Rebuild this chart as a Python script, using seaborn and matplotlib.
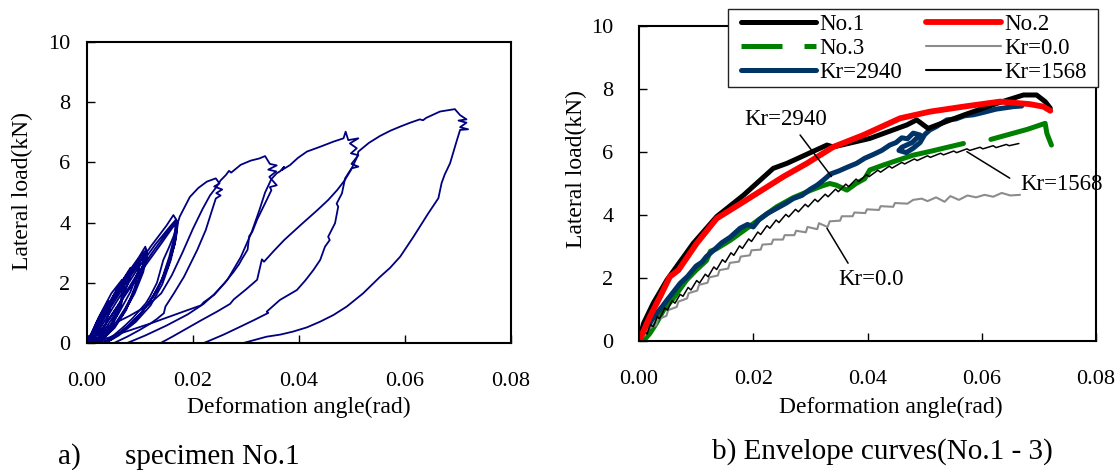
import pandas as pd
import seaborn as sns
import matplotlib.pyplot as plt
from matplotlib.lines import Line2D
from matplotlib.patches import Rectangle

sns.set_theme(style="white")
plt.rcParams['font.family'] = ['Liberation Serif', 'DejaVu Serif']
plt.rcParams['text.color'] = 'black'
plt.rcParams['axes.labelcolor'] = 'black'
plt.rcParams['xtick.color'] = 'black'
plt.rcParams['ytick.color'] = 'black'

# ---- common axes values
x_ticks = [0.00, 0.02, 0.04, 0.06, 0.08]
x_tick_labels = ["0.00", "0.02", "0.04", "0.06", "0.08"]
y_ticks = [0, 2, 4, 6, 8, 10]
y_tick_labels = ["0", "2", "4", "6", "8", "10"]

# ---- a) hysteresis of specimen No.1 (read off the picture)
small_x = [0.0000, 0.0020, 0.0040, 0.0043, 0.0036, 0.0020, 0.0008,
           0.0000, 0.0022, 0.0046, 0.0066, 0.0069, 0.0062, 0.0046, 0.0026, 0.0012,
           0.0005, 0.0030, 0.0055, 0.0075, 0.0082, 0.0080, 0.0070, 0.0052, 0.0032, 0.0018,
           0.0000, 0.0024, 0.0050, 0.0068, 0.0070, 0.0063, 0.0048, 0.0030, 0.0016,
           0.0002, 0.0028, 0.0058, 0.0085, 0.0095, 0.0098, 0.0090, 0.0074, 0.0052, 0.0030, 0.0018,
           0.0004, 0.0030, 0.0062, 0.0090, 0.0100, 0.0096, 0.0082, 0.0060, 0.0038, 0.0022,
           0.0012, 0.0040, 0.0070, 0.0095, 0.0108, 0.0105, 0.0095, 0.0080, 0.0060, 0.0040, 0.0025,
           0.0006, 0.0035, 0.0070, 0.0098, 0.0110, 0.0114, 0.0106, 0.0090, 0.0068, 0.0044, 0.0026,
           0.0008, 0.0040, 0.0075, 0.0102, 0.0112, 0.0108, 0.0094, 0.0072, 0.0048, 0.0030,
           0.0010, 0.0045, 0.0085, 0.0120, 0.0150, 0.0163, 0.0170, 0.0168, 0.0160, 0.0145, 0.0125, 0.0100, 0.0070, 0.0040,
           0.0015, 0.0055, 0.0095, 0.0130, 0.0158, 0.0168, 0.0165, 0.0155, 0.0140, 0.0118, 0.0090, 0.0055, 0.0030,
           0.0025, 0.0060, 0.0095, 0.0125, 0.0150, 0.0165, 0.0170, 0.0166, 0.0152, 0.0132, 0.0105, 0.0075, 0.0045,
           0.0020, 0.0065, 0.0105, 0.0140, 0.0162, 0.0172, 0.0168, 0.0158, 0.0142, 0.0120, 0.0092, 0.0060, 0.0035]
small_y = [0.00, 0.75, 1.40, 1.15, 0.65, 0.15, 0.00,
           0.00, 0.85, 1.65, 2.10, 1.85, 1.25, 0.65, 0.15, 0.00,
           0.10, 0.95, 1.75, 2.30, 2.50, 2.15, 1.60, 0.95, 0.40, 0.05,
           0.00, 0.80, 1.55, 1.95, 1.70, 1.15, 0.60, 0.20, 0.00,
           0.05, 0.90, 1.80, 2.45, 2.65, 2.40, 1.85, 1.10, 0.50, 0.15, 0.00,
           0.10, 0.95, 1.85, 2.55, 2.75, 2.35, 1.70, 1.00, 0.40, 0.05,
           0.30, 1.10, 1.95, 2.60, 2.95, 2.55, 1.95, 1.35, 0.75, 0.30, 0.05,
           0.15, 1.10, 2.15, 2.85, 3.20, 2.95, 2.35, 1.65, 0.95, 0.40, 0.05,
           0.10, 1.15, 2.20, 2.90, 3.10, 2.60, 1.90, 1.15, 0.50, 0.10,
           0.15, 1.20, 2.30, 3.20, 3.90, 4.25, 4.05, 3.60, 3.00, 2.25, 1.55, 0.95, 0.45, 0.05,
           0.20, 1.35, 2.45, 3.30, 3.90, 4.10, 3.55, 2.85, 2.05, 1.35, 0.75, 0.25, 0.00,
           0.35, 1.30, 2.30, 3.05, 3.65, 4.00, 3.85, 3.30, 2.50, 1.75, 1.05, 0.50, 0.10,
           0.25, 1.40, 2.45, 3.30, 3.85, 4.05, 3.50, 2.75, 1.95, 1.25, 0.70, 0.25, 0.00]

cyc2_x = [0.0030, 0.0052, 0.0070, 0.0086, 0.0100, 0.0111, 0.0119, 0.0132, 0.0144, 0.0154, 0.0163,
          0.0175, 0.0194, 0.0210, 0.0226, 0.0243,
          0.0250, 0.0240, 0.0255, 0.0244, 0.0252, 0.0243, 0.0237, 0.0224, 0.0208, 0.0183, 0.0164,
          0.0148, 0.0145, 0.0132, 0.0120, 0.0098, 0.0076, 0.0051]
cyc2_y = [0.00, 0.28, 0.55, 0.82, 1.10, 1.32, 1.55, 2.00, 2.76, 3.15, 3.53,
          4.20, 4.85, 5.15, 5.36, 5.47,
          5.30, 5.20, 5.10, 4.98, 4.90, 4.80, 4.47, 3.75, 3.09, 2.20, 1.65,
          1.21, 0.99, 0.80, 0.65, 0.42, 0.21, 0.00]

cyc3_x = [0.0000, 0.0040, 0.0080, 0.0115, 0.0140, 0.0160, 0.0180, 0.0200, 0.0218, 0.0232, 0.0245,
          0.0252, 0.0262, 0.0268, 0.0272, 0.0290, 0.0309, 0.0325, 0.0336, 0.0345, 0.0358, 0.0342,
          0.0357, 0.0344, 0.0358, 0.0345, 0.0348, 0.0339, 0.0321, 0.0312, 0.0306, 0.0303, 0.0291,
          0.0287, 0.0276, 0.0259, 0.0240, 0.0220, 0.0190, 0.0150, 0.0110, 0.0076]
cyc3_y = [0.20, 0.55, 0.90, 1.25, 1.65, 2.25, 3.00, 3.80, 4.45, 4.90, 5.20,
          5.40, 5.58, 5.72, 5.66, 5.92, 6.06, 6.13, 6.21, 5.95, 5.90, 5.76,
          5.70, 5.52, 5.24, 5.18, 5.08, 4.75, 4.10, 3.70, 3.55, 3.10, 2.75,
          2.62, 2.35, 1.98, 1.62, 1.30, 0.95, 0.58, 0.25, 0.00]

cyc4_x = [0.0013, 0.0060, 0.0120, 0.0183, 0.0215, 0.0220, 0.0240, 0.0265, 0.0290, 0.0310, 0.0325,
          0.0336, 0.0348, 0.0358, 0.0364, 0.0372, 0.0368, 0.0383, 0.0398, 0.0415, 0.0440, 0.0465,
          0.0484, 0.0488, 0.0493, 0.0512, 0.0496, 0.0509, 0.0498, 0.0512, 0.0499, 0.0512, 0.0499,
          0.0487, 0.0481, 0.0471, 0.0474, 0.0468, 0.0455, 0.0458, 0.0449, 0.0440, 0.0427, 0.0412,
          0.0396, 0.0364, 0.0339, 0.0342, 0.0315, 0.0289, 0.0258, 0.0226, 0.0220]
cyc4_y = [0.00, 0.30, 0.65, 1.05, 1.25, 1.35, 1.60, 2.10, 2.85, 3.65, 4.40,
          5.00, 5.45, 5.64, 5.70, 5.85, 5.75, 5.91, 6.15, 6.36, 6.52, 6.69,
          6.80, 7.02, 6.74, 6.80, 6.63, 6.47, 6.30, 6.24, 5.95, 5.86, 5.80,
          5.47, 4.97, 4.63, 4.53, 3.98, 3.53, 3.42, 3.20, 2.76, 2.42, 2.08,
          1.76, 1.43, 1.04, 1.00, 0.76, 0.54, 0.28, 0.04, 0.00]

cyc5_x = [0.0139, 0.0160, 0.0183, 0.0215, 0.0246, 0.0270, 0.0277, 0.0300, 0.0321, 0.0330, 0.0334,
          0.0352, 0.0372, 0.0405, 0.0435, 0.0455, 0.0472, 0.0486, 0.0498, 0.0510, 0.0512, 0.0532,
          0.0553, 0.0572, 0.0591, 0.0610, 0.0628, 0.0634, 0.0640, 0.0666, 0.0694, 0.0704,
          0.0716, 0.0701, 0.0716, 0.0704, 0.0719, 0.0704, 0.0698, 0.0685, 0.0675, 0.0669, 0.0663,
          0.0644, 0.0630, 0.0616, 0.0591, 0.0572, 0.0553, 0.0521, 0.0490, 0.0465, 0.0440, 0.0415,
          0.0389, 0.0365, 0.0339, 0.0295]
cyc5_y = [0.00, 0.20, 0.43, 0.75, 1.05, 1.30, 1.45, 1.78, 2.10, 2.78, 2.70,
          3.05, 3.42, 3.95, 4.42, 4.75, 5.08, 5.40, 5.75, 6.19, 6.36, 6.65,
          6.88, 7.05, 7.19, 7.32, 7.43, 7.40, 7.48, 7.69, 7.77, 7.57,
          7.43, 7.39, 7.32, 7.17, 7.10, 7.08, 6.74, 5.97, 5.60, 5.31, 4.81,
          4.31, 3.92, 3.53, 2.87, 2.50, 2.20, 1.65, 1.21, 0.93, 0.71, 0.52,
          0.38, 0.28, 0.21, 0.00]

# ---- b) envelope curves
no1_x = [0.0000, 0.0008, 0.0025, 0.0049, 0.0072, 0.0095, 0.0136, 0.0183, 0.0235, 0.0259, 0.0329,
         0.0340, 0.0404, 0.0469, 0.0486, 0.0506, 0.0568, 0.0626, 0.0673, 0.0696, 0.0711, 0.0720]
no1_y = [0.00, 0.56, 1.20, 1.94, 2.52, 3.10, 3.95, 4.63, 5.48, 5.64, 6.22,
         6.16, 6.43, 6.86, 7.02, 6.75, 7.17, 7.54, 7.81, 7.81, 7.60, 7.39]

no2_x = [0.0000, 0.0019, 0.0037, 0.0054, 0.0069, 0.0101, 0.0136, 0.0183, 0.0253, 0.0294, 0.0340,
         0.0393, 0.0457, 0.0509, 0.0568, 0.0632, 0.0684, 0.0708, 0.0720]
no2_y = [0.00, 0.77, 1.41, 2.04, 2.25, 3.10, 3.89, 4.42, 5.22, 5.64, 6.16,
         6.54, 7.07, 7.28, 7.44, 7.60, 7.52, 7.44, 7.31]

no3_x_a = [0.0000, 0.0010, 0.0019, 0.0030, 0.0043, 0.0060, 0.0083, 0.0100, 0.0118, 0.0125, 0.0135,
           0.0160, 0.0189, 0.0215, 0.0241, 0.0270, 0.0300, 0.0320, 0.0334, 0.0345, 0.0364, 0.0380,
           0.0395, 0.0404, 0.0430, 0.0455, 0.0480, 0.0510, 0.0540, 0.0568]
no3_y_a = [0.00, 0.05, 0.24, 0.55, 0.98, 1.35, 1.93, 2.25, 2.55, 2.85, 2.92,
           3.20, 3.58, 3.92, 4.26, 4.55, 4.78, 4.92, 5.00, 4.95, 4.79, 5.00,
           5.15, 5.43, 5.60, 5.75, 5.90, 6.02, 6.15, 6.27]
no3_x_b = [0.0616, 0.0644, 0.0680, 0.0711, 0.0714, 0.0722]
no3_y_b = [6.40, 6.54, 6.72, 6.91, 6.59, 6.22]

kr0_x = [0.0000, 0.0012, 0.0015, 0.0030, 0.0033, 0.0048, 0.0051, 0.0066, 0.0069, 0.0084, 0.0087,
         0.0102, 0.0105, 0.0120, 0.0123, 0.0138, 0.0141, 0.0156, 0.0159, 0.0175, 0.0178, 0.0194,
         0.0197, 0.0213, 0.0216, 0.0232, 0.0235, 0.0252, 0.0255, 0.0272, 0.0275, 0.0292, 0.0295,
         0.0312, 0.0315, 0.0330, 0.0334, 0.0352, 0.0355, 0.0374, 0.0377, 0.0396, 0.0399, 0.0420,
         0.0423, 0.0445, 0.0448, 0.0470, 0.0480, 0.0495, 0.0505, 0.0520, 0.0535, 0.0545, 0.0560,
         0.0575, 0.0590, 0.0605, 0.0620, 0.0635, 0.0650, 0.0667]
kr0_y = [0.00, 0.22, 0.38, 0.50, 0.68, 0.80, 0.98, 1.08, 1.25, 1.35, 1.52,
         1.60, 1.78, 1.85, 2.02, 2.08, 2.25, 2.30, 2.48, 2.52, 2.68, 2.72,
         2.88, 2.90, 3.06, 3.08, 3.22, 3.22, 3.36, 3.36, 3.50, 3.45, 3.62,
         3.55, 3.74, 3.62, 3.80, 3.82, 3.96, 3.96, 4.08, 4.06, 4.18, 4.16,
         4.28, 4.26, 4.38, 4.36, 4.48, 4.52, 4.44, 4.56, 4.42, 4.60, 4.48,
         4.62, 4.56, 4.64, 4.58, 4.70, 4.62, 4.64]

kr2940_x = [0.0000, 0.0008, 0.0015, 0.0022, 0.0031, 0.0040, 0.0050, 0.0060, 0.0072, 0.0085, 0.0100,
            0.0110, 0.0118, 0.0132, 0.0145, 0.0160, 0.0177, 0.0190, 0.0200, 0.0210, 0.0225, 0.0241,
            0.0258, 0.0270, 0.0285, 0.0300, 0.0312, 0.0323, 0.0335, 0.0350, 0.0365, 0.0381, 0.0395,
            0.0410, 0.0425, 0.0439, 0.0450, 0.0460, 0.0470, 0.0480, 0.0492, 0.0478, 0.0460, 0.0455,
            0.0468, 0.0480, 0.0492, 0.0500, 0.0509, 0.0520, 0.0539, 0.0555, 0.0570, 0.0585, 0.0597,
            0.0612, 0.0625, 0.0640, 0.0655, 0.0670]
kr2940_y = [0.00, 0.25, 0.42, 0.65, 0.88, 1.08, 1.32, 1.55, 1.83, 2.05, 2.38,
            2.50, 2.68, 2.90, 3.12, 3.30, 3.58, 3.70, 3.62, 3.85, 4.05, 4.21,
            4.38, 4.52, 4.62, 4.82, 4.95, 5.11, 5.30, 5.40, 5.52, 5.64, 5.80,
            5.92, 6.05, 6.22, 6.30, 6.45, 6.42, 6.60, 6.54, 6.30, 6.15, 6.05,
            5.98, 6.12, 6.30, 6.55, 6.70, 6.80, 7.02, 7.05, 7.15, 7.18, 7.23,
            7.30, 7.36, 7.40, 7.44, 7.46]

kr1568_x = [0.0000, 0.0010, 0.0014, 0.0020, 0.0025, 0.0032, 0.0036, 0.0045, 0.0050, 0.0058, 0.0063,
            0.0072, 0.0077, 0.0086, 0.0091, 0.0101, 0.0106, 0.0116, 0.0121, 0.0131, 0.0136, 0.0146,
            0.0151, 0.0161, 0.0166, 0.0176, 0.0181, 0.0192, 0.0197, 0.0208, 0.0213, 0.0224, 0.0229,
            0.0240, 0.0245, 0.0257, 0.0262, 0.0274, 0.0279, 0.0291, 0.0296, 0.0308, 0.0313, 0.0326,
            0.0331, 0.0344, 0.0349, 0.0362, 0.0367, 0.0380, 0.0385, 0.0398, 0.0403, 0.0418, 0.0423,
            0.0438, 0.0443, 0.0460, 0.0465, 0.0482, 0.0487, 0.0505, 0.0510, 0.0528, 0.0533, 0.0551,
            0.0556, 0.0574, 0.0579, 0.0597, 0.0602, 0.0620, 0.0625, 0.0643, 0.0648, 0.0665]
kr1568_y = [0.00, 0.30, 0.22, 0.52, 0.45, 0.78, 0.70, 1.05, 0.98, 1.28, 1.20,
            1.48, 1.42, 1.70, 1.62, 1.92, 1.84, 2.12, 2.04, 2.35, 2.27, 2.58,
            2.50, 2.80, 2.72, 3.02, 2.94, 3.24, 3.16, 3.46, 3.38, 3.66, 3.58,
            3.84, 3.76, 4.02, 3.94, 4.18, 4.10, 4.34, 4.26, 4.50, 4.42, 4.66,
            4.58, 4.82, 4.74, 4.98, 4.90, 5.14, 5.06, 5.28, 5.22, 5.42, 5.36,
            5.55, 5.49, 5.67, 5.62, 5.78, 5.73, 5.88, 5.83, 5.96, 5.91, 6.03,
            5.98, 6.10, 6.05, 6.15, 6.10, 6.20, 6.14, 6.24, 6.20, 6.27]

legend_labels = ["No.1", "No.2", "No.3", "Kr=0.0", "Kr=2940", "Kr=1568"]

NAVY = "#000080"
GREEN = "#008000"
BLUE = "#003366"
GRAY = "#8c8c8c"
RED = "#ff0000"


def seg_frame(parts):
    rows = []
    for name, xs, ys in parts:
        for x, y in zip(xs, ys):
            rows.append({"seg": name, "rad": x, "kN": y})
    return pd.DataFrame(rows)


def style_axes(ax, ypad):
    ax.set_xlim(0, 0.08)
    ax.set_ylim(0, 10)
    ax.set_xticks(x_ticks)
    ax.set_xticklabels(x_tick_labels)
    ax.set_yticks(y_ticks)
    ax.set_yticklabels(y_tick_labels)
    ax.tick_params(direction="in", length=6, width=1, colors="black", labelsize=16,
                   bottom=True, left=True, top=False, right=False)
    ax.tick_params(axis="x", pad=21)
    ax.tick_params(axis="y", pad=ypad)
    for sp in ax.spines.values():
        sp.set_visible(True)
        sp.set_color("black")
        sp.set_linewidth(1.5)


fig = plt.figure(figsize=(11.16, 4.70), dpi=100)
ax1 = fig.add_axes([87 / 1116, 1 - 343 / 470, 424 / 1116, 301 / 470])
ax2 = fig.add_axes([639 / 1116, 1 - 341 / 470, 457 / 1116, 315 / 470])

# a) hysteresis loops
hys = seg_frame([("small", small_x, small_y), ("c2", cyc2_x, cyc2_y), ("c3", cyc3_x, cyc3_y),
                 ("c4", cyc4_x, cyc4_y), ("c5", cyc5_x, cyc5_y)])
sns.lineplot(data=hys, x="rad", y="kN", units="seg", estimator=None, sort=False,
             color=NAVY, linewidth=1.3, ax=ax1, legend=False)
style_axes(ax1, 12)
ax1.set_xlabel("Deformation angle(rad)", fontsize=17, va="center")
ax1.set_ylabel("Lateral load(kN)", fontsize=17, va="center")
ax1.xaxis.set_label_coords(0.5, -0.2126)
ax1.yaxis.set_label_coords(-0.153, 0.505)

# b) envelope curves
no3 = seg_frame([("a", no3_x_a, no3_y_a), ("b", no3_x_b, no3_y_b)])
sns.lineplot(data=no3, x="rad", y="kN", units="seg", estimator=None, sort=False,
             color=GREEN, linewidth=3.6, ax=ax2, legend=False)
sns.lineplot(x=kr2940_x, y=kr2940_y, estimator=None, sort=False, color=BLUE,
             linewidth=3.6, ax=ax2)
sns.lineplot(x=kr0_x, y=kr0_y, estimator=None, sort=False, color=GRAY,
             linewidth=1.5, ax=ax2)
sns.lineplot(x=kr1568_x, y=kr1568_y, estimator=None, sort=False, color="black",
             linewidth=1.1, ax=ax2)
sns.lineplot(x=no1_x, y=no1_y, estimator=None, sort=False, color="black",
             linewidth=3.6, ax=ax2)
sns.lineplot(x=no2_x, y=no2_y, estimator=None, sort=False, color=RED,
             linewidth=4.2, ax=ax2)
for ln in ax2.get_lines():
    ln.set_solid_joinstyle("round")
    ln.set_solid_capstyle("round")

style_axes(ax2, 18.5)
ax2.set_xlabel("Deformation angle(rad)", fontsize=17, va="center")
ax2.set_ylabel("Lateral load(kN)", fontsize=17, va="center")
ax2.xaxis.set_label_coords(0.551, -0.2095)
ax2.yaxis.set_label_coords(-0.136, 0.546)

# curve labels with leader lines
lead = dict(arrowstyle="-", color="black", lw=1.1, shrinkA=0, shrinkB=0)
ax2.annotate("", xy=(0.0337, 5.22), xytext=(0.0282, 6.54), arrowprops=lead)
ax2.text(0.0257, 7.02, "Kr=2940", fontsize=16.5, ha="center", va="center")
ax2.annotate("", xy=(0.0329, 3.58), xytext=(0.0366, 2.47), arrowprops=lead)
ax2.text(0.0407, 1.94, "Kr=0.0", fontsize=16.5, ha="center", va="center")
ax2.annotate("", xy=(0.0574, 6.01), xytext=(0.0649, 5.17), arrowprops=lead)
ax2.text(0.0740, 4.98, "Kr=1568", fontsize=16.5, ha="center", va="center")

# legend box sits over the top-right corner of the axes
fig.add_artist(Rectangle((728 / 1116, 1 - 87 / 470), 370 / 1116, 78 / 470,
                         transform=fig.transFigure, facecolor="white",
                         edgecolor="#222222", linewidth=1.0, zorder=3))
handles = [
    Line2D([], [], color="black", lw=3.6, solid_capstyle="round"),
    Line2D([], [], color=GREEN, lw=3.6, linestyle=(0, (8.2, 4.4))),
    Line2D([], [], color=BLUE, lw=3.6, solid_capstyle="round"),
    Line2D([], [], color=RED, lw=4.2, solid_capstyle="round"),
    Line2D([], [], color=GRAY, lw=1.5),
    Line2D([], [], color="black", lw=1.5),
]
labels = [legend_labels[0], legend_labels[2], legend_labels[4],
          legend_labels[1], legend_labels[3], legend_labels[5]]
fig.legend(handles, labels, ncol=2, loc="upper left",
           bbox_to_anchor=(741 / 1116, 1 - 14 / 470), bbox_transform=fig.transFigure,
           frameon=False, fontsize=16.5, borderpad=0, borderaxespad=0,
           handlelength=3.27, handletextpad=0.14, columnspacing=1.05,
           labelspacing=0.13)

# panel captions
fig.text(58 / 1116, 1 - 457 / 470, "a)", fontsize=21, va="center", ha="left")
fig.text(125 / 1116, 1 - 457 / 470, "specimen No.1", fontsize=21, va="center", ha="left")
fig.text(712 / 1116, 1 - 452 / 470, "b) Envelope curves(No.1 - 3)", fontsize=21,
         va="center", ha="left")

fig.savefig("out.png", dpi=100)
